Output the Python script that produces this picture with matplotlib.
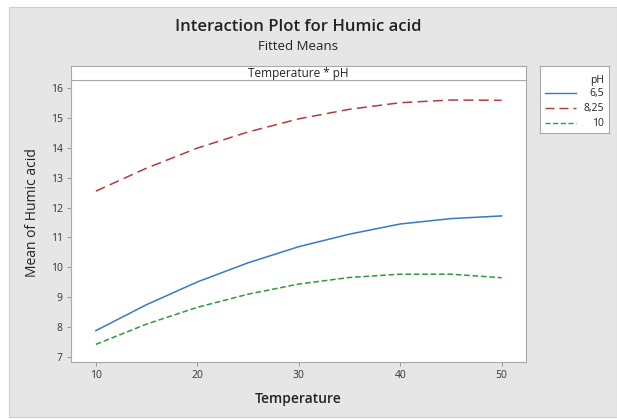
import matplotlib
matplotlib.use("Agg")
import matplotlib.pyplot as plt
from matplotlib.patches import Rectangle

plt.rcParams["font.family"] = ["Open Sans", "DejaVu Sans"]

temperature = [10, 15, 20, 25, 30, 35, 40, 45, 50]
ph_levels = ["6,5", "8,25", "10"]
mean_ph_65 = [7.88, 8.75, 9.51, 10.15, 10.69, 11.11, 11.45, 11.63, 11.72]
mean_ph_825 = [12.55, 13.32, 13.99, 14.53, 14.97, 15.29, 15.51, 15.60, 15.59]
mean_ph_10 = [7.42, 8.10, 8.66, 9.10, 9.44, 9.66, 9.77, 9.77, 9.65]
x_ticks = [10, 20, 30, 40, 50]
y_ticks = [7, 8, 9, 10, 11, 12, 13, 14, 15, 16]

series = [mean_ph_65, mean_ph_825, mean_ph_10]
colors = ["#3b78c4", "#b23c3c", "#2f9a3c"]
dashes = [None, (6.5, 3.5), (3.7, 1.8)]

W, H = 617, 419
fig = plt.figure(figsize=(W / 100, H / 100), dpi=100, facecolor="white")
fig.patches.append(Rectangle((9 / W, 2 / H), 1 - 9 / W, 410 / H, transform=fig.transFigure,
                             facecolor="#e6e6e6", edgecolor="#d0d0d0", lw=0.8, zorder=-10))

ax = fig.add_axes([71 / W, 1 - 362 / H, 455 / W, 282 / H])
ax.set_facecolor("white")
for vals, c, d in zip(series, colors, dashes):
    line, = ax.plot(temperature, vals, color=c, lw=1.1)
    if d:
        line.set_dashes(d)

ax.set_xlim(7.55, 52.4)
ax.set_ylim(6.83, 16.27)
ax.set_xticks(x_ticks)
ax.set_yticks(y_ticks)
ax.tick_params(labelsize=7.5, length=3, width=0.6, color="#888888", labelcolor="#333333", pad=3)
for s in ax.spines.values():
    s.set_color("#a8a8a8")
    s.set_linewidth(0.8)
ax.set_xlabel("Temperature", fontsize=10, fontweight="semibold", color="#222222", labelpad=8)
ax.set_ylabel("Mean of Humic acid", fontsize=10, color="#222222")
ax.yaxis.set_label_coords(-0.068, 0.53)

# strip above panel
strip = fig.add_axes([71 / W, 1 - 80 / H, 455 / W, 14 / H])
strip.set_xticks([])
strip.set_yticks([])
strip.set_facecolor("white")
for s in strip.spines.values():
    s.set_color("#a8a8a8")
    s.set_linewidth(0.8)
strip.text(0.5, 0.45, "Temperature * pH", ha="center", va="center", fontsize=8.5, color="#222222")

fig.text(298 / W, 1 - 27 / H, "Interaction Plot for Humic acid", ha="center", va="center",
         fontsize=12, fontweight="semibold", color="#222222")
fig.text(298 / W, 1 - 46 / H, "Fitted Means", ha="center", va="center", fontsize=9.5, color="#222222")

# legend box
lx0, ly0, lw_, lh_ = 540, 66, 69, 67
lg = fig.add_axes([lx0 / W, 1 - (ly0 + lh_) / H, lw_ / W, lh_ / H])
lg.set_xlim(0, lw_)
lg.set_ylim(lh_, 0)
lg.set_xticks([])
lg.set_yticks([])
lg.set_facecolor("white")
for s in lg.spines.values():
    s.set_color("#a8a8a8")
    s.set_linewidth(0.8)
lg.text(64, 80 - ly0, "pH", ha="right", va="center", fontsize=7.5, color="#222222")
for i, (lab, c, d) in enumerate(zip(ph_levels, colors, dashes)):
    yy = 93 - ly0 + i * 15
    ln, = lg.plot([5, 36], [yy, yy], color=c, lw=1.0)
    if d:
        ln.set_dashes(d)
    lg.text(64, yy, lab, ha="right", va="center", fontsize=7.5, color="#222222")

fig.savefig("out.png", dpi=100, facecolor=fig.get_facecolor())
